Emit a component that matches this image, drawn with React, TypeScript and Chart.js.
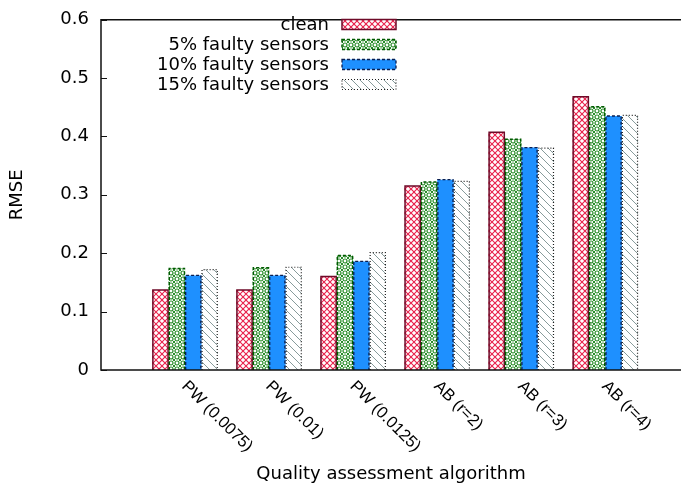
import React, { useEffect, useRef } from 'react';
import { Chart, registerables } from 'chart.js';

Chart.register(...registerables);

// Algorithms on the x axis
const categories = ['PW (0.0075)', 'PW (0.01)', 'PW (0.0125)', 'AB (r=2)', 'AB (r=3)', 'AB (r=4)'];

// Series names
const seriesLabels = ['clean', '5% faulty sensors', '10% faulty sensors', '15% faulty sensors'];

// RMSE per algorithm for each sensor condition
const cleanRmse = [0.137, 0.137, 0.16, 0.315, 0.407, 0.468];
const faulty5Rmse = [0.174, 0.175, 0.196, 0.322, 0.395, 0.451];
const faulty10Rmse = [0.162, 0.162, 0.186, 0.326, 0.381, 0.435];
const faulty15Rmse = [0.172, 0.176, 0.201, 0.323, 0.38, 0.436];

// Y axis ticks
const yTickValues = [0, 0.1, 0.2, 0.3, 0.4, 0.5, 0.6];

const xTitle = 'Quality assessment algorithm';
const yTitle = 'RMSE';

const TEXT_FONT = "'DejaVu Sans', sans-serif";
const TICK_FONT = "'Liberation Sans', Arial, sans-serif";

type Outline = { color: string; width: number; dash: number[] };

function tile(size: number, paint: (g: CanvasRenderingContext2D, s: number) => void): CanvasPattern {
  const c = document.createElement('canvas');
  c.width = size;
  c.height = size;
  const g = c.getContext('2d')!;
  g.fillStyle = '#ffffff';
  g.fillRect(0, 0, size, size);
  paint(g, size);
  return g.createPattern(c, 'repeat')!;
}

function diagonals(g: CanvasRenderingContext2D, s: number, period: number, down: boolean) {
  g.beginPath();
  for (let c = -s; c <= 2 * s + 0.01; c += period) {
    if (down) {
      g.moveTo(c, 0);
      g.lineTo(c + s, s);
    } else {
      g.moveTo(c, s);
      g.lineTo(c + s, 0);
    }
  }
  g.stroke();
}

function makeFills() {
  const crossHatch = tile(12, (g, s) => {
    g.strokeStyle = 'rgb(232,36,78)';
    g.lineWidth = 1.1;
    diagonals(g, s, s / 2, true);
    diagonals(g, s, s / 2, false);
  });
  const rings = tile(12, (g, s) => {
    const p = s / 2;
    g.strokeStyle = 'rgb(40,140,40)';
    g.lineWidth = 1.2;
    for (let i = 0; i < 2; i++) {
      for (let j = 0; j < 2; j++) {
        g.beginPath();
        g.arc(p / 2 + i * p, p / 2 + j * p, 2, 0, Math.PI * 2);
        g.stroke();
      }
    }
    g.lineWidth = 1;
    for (let i = 0; i <= 2; i++) {
      for (let j = 0; j <= 2; j++) {
        const cx = i * p;
        const cy = j * p;
        g.beginPath();
        g.moveTo(cx - 1.2, cy - 1.2);
        g.lineTo(cx + 1.2, cy + 1.2);
        g.moveTo(cx - 1.2, cy + 1.2);
        g.lineTo(cx + 1.2, cy - 1.2);
        g.stroke();
      }
    }
  });
  const hatch = tile(8, (g, s) => {
    g.strokeStyle = 'rgb(135,155,155)';
    g.lineWidth = 1;
    diagonals(g, s, s, true);
  });
  return [crossHatch, rings, 'rgb(30,144,255)', hatch];
}

const outlines: Outline[] = [
  { color: 'rgb(110,10,40)', width: 1.5, dash: [] },
  { color: 'rgb(0,90,0)', width: 1.5, dash: [3, 2] },
  { color: 'rgb(10,30,80)', width: 1.3, dash: [3, 2] },
  { color: 'rgb(30,30,30)', width: 1.2, dash: [1, 2] },
];

function strokeOutline(ctx: CanvasRenderingContext2D, o: Outline, pts: [number, number][], close: boolean) {
  ctx.save();
  ctx.strokeStyle = o.color;
  ctx.lineWidth = o.width;
  ctx.setLineDash(o.dash);
  ctx.beginPath();
  pts.forEach(([x, y], k) => (k === 0 ? ctx.moveTo(x, y) : ctx.lineTo(x, y)));
  if (close) ctx.closePath();
  ctx.stroke();
  ctx.restore();
}

// Dashed/dotted bar outlines, drawn on the geometry Chart.js computed
const barOutlinePlugin = {
  id: 'barOutlines',
  afterDatasetsDraw(chart: any) {
    const ctx = chart.ctx as CanvasRenderingContext2D;
    chart.data.datasets.forEach((ds: any, i: number) => {
      const meta = chart.getDatasetMeta(i);
      const o: Outline = ds.outline;
      meta.data.forEach((el: any) => {
        const { x, y, base, width } = el.getProps(['x', 'y', 'base', 'width'], true);
        const l = x - width / 2 + 0.6;
        const r = x + width / 2 - 0.6;
        strokeOutline(ctx, o, [[l, base], [l, y], [r, y], [r, base]], false);
      });
    });
  },
};

// Frame, inward ticks, slanted category labels and the key
const decorPlugin = {
  id: 'decor',
  afterDraw(chart: any) {
    const ctx = chart.ctx as CanvasRenderingContext2D;
    const { left, top, right, bottom } = chart.chartArea;
    const xs = chart.scales.x;
    const ys = chart.scales.y;

    ctx.save();
    ctx.strokeStyle = '#111';
    ctx.lineWidth = 1;
    ys.ticks.forEach((t: any) => {
      const py = Math.round(ys.getPixelForValue(t.value)) + 0.5;
      ctx.beginPath();
      ctx.moveTo(left, py);
      ctx.lineTo(left + 6, py);
      ctx.stroke();
    });
    ctx.lineWidth = 1.5;
    ctx.beginPath();
    ctx.moveTo(right, top);
    ctx.lineTo(left, top);
    ctx.lineTo(left, bottom);
    ctx.lineTo(right, bottom);
    ctx.stroke();

    ctx.fillStyle = '#000';
    ctx.font = `16.5px ${TICK_FONT}`;
    ctx.textAlign = 'left';
    ctx.textBaseline = 'alphabetic';
    categories.forEach((label, i) => {
      const px = xs.getPixelForValue(i);
      ctx.save();
      ctx.translate(px - 4, bottom + 17);
      ctx.rotate(Math.PI / 4);
      ctx.fillText(label, 0, 0);
      ctx.restore();
    });

    ctx.font = `18px ${TEXT_FONT}`;
    ctx.textAlign = 'right';
    ctx.textBaseline = 'middle';
    chart.data.datasets.forEach((ds: any, i: number) => {
      const cy = 24.5 + 20 * i;
      ctx.fillStyle = '#000';
      ctx.fillText(ds.label, 329, cy + 1);
      ctx.fillStyle = ds.backgroundColor;
      ctx.fillRect(342, cy - 5, 54, 10);
      strokeOutline(ctx, ds.outline, [[342, cy - 5], [396, cy - 5], [396, cy + 5], [342, cy + 5]], true);
    });
    ctx.restore();
  },
};

export default function App() {
  const ref = useRef<HTMLCanvasElement>(null);

  useEffect(() => {
    document.body.style.margin = '0';
    const canvas = ref.current!;
    const fills = makeFills();
    const series = [cleanRmse, faulty5Rmse, faulty10Rmse, faulty15Rmse];

    const chart = new Chart(canvas, {
      type: 'bar',
      data: {
        datasets: series.map((values, i) => ({
          label: seriesLabels[i],
          data: values.map((v, k) => ({ x: k, y: v })),
          backgroundColor: fills[i] as any,
          borderWidth: 0,
          outline: outlines[i],
          categoryPercentage: 0.78,
          barPercentage: 1,
        })) as any,
      },
      options: {
        animation: false,
        responsive: false,
        events: [],
        layout: { padding: { top: 8, left: 0, right: 0, bottom: 0 } },
        plugins: {
          legend: { display: false },
          tooltip: { enabled: false },
        },
        scales: {
          x: {
            type: 'linear',
            min: -1,
            max: 5.9,
            offset: false,
            bounds: 'data',
            grid: { display: false, drawTicks: false },
            border: { display: false },
            ticks: { display: false, stepSize: 1 },
            afterBuildTicks: (scale: any) => {
              scale.ticks = categories.map((_, i) => ({ value: i }));
            },
            afterFit: (scale: any) => {
              scale.height = 123;
            },
            title: {
              display: true,
              text: xTitle,
              color: '#000',
              font: { family: TEXT_FONT, size: 18 },
              padding: { top: 0, bottom: 8 },
            },
          },
          y: {
            min: yTickValues[0],
            max: yTickValues[yTickValues.length - 1],
            grid: { display: false, drawTicks: false },
            border: { display: false },
            afterBuildTicks: (scale: any) => {
              scale.ticks = yTickValues.map((v) => ({ value: v }));
            },
            ticks: {
              padding: 12,
              color: '#000',
              font: { family: TEXT_FONT, size: 18, lineHeight: 0.85 },
              callback: (v: any) => (Number(v) === 0 ? '0' : Number(v).toFixed(1)),
            },
            afterFit: (scale: any) => {
              scale.width = 101;
            },
            title: {
              display: true,
              text: yTitle,
              color: '#000',
              font: { family: TEXT_FONT, size: 18 },
              padding: { top: 7, bottom: 0 },
            },
          },
        },
      },
      plugins: [barOutlinePlugin, decorPlugin],
    } as any);

    return () => chart.destroy();
  }, []);

  return (
    <div style={{ width: 681, height: 493 }}>
      <canvas ref={ref} width={681} height={493} style={{ display: 'block' }} />
    </div>
  );
}
